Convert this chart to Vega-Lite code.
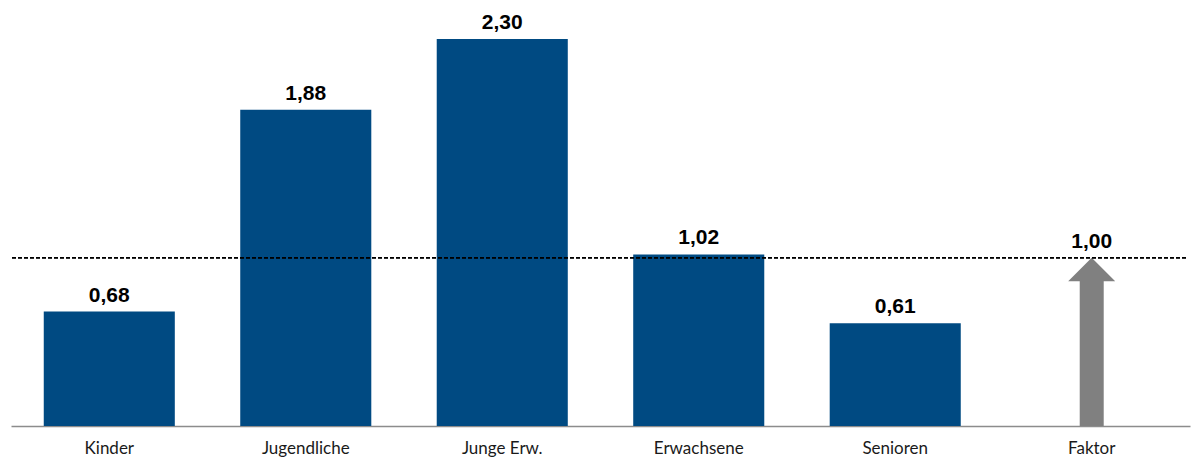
{
  "$schema": "https://vega.github.io/schema/vega-lite/v6.json",
  "width": 1179,
  "height": 426,
  "autosize": {"type": "none"},
  "padding": {"left": 11, "top": 0, "right": 10, "bottom": 36},
  "background": "white",
  "config": {
    "view": {"stroke": null},
    "locale": {
      "number": {"decimal": ",", "thousands": ".", "grouping": [3], "currency": ["", " €"]}
    }
  },
  "data": {
    "values": [
      {"Gruppe": "Kinder", "Wert": 0.68, "Art": "Balken"},
      {"Gruppe": "Jugendliche", "Wert": 1.88, "Art": "Balken"},
      {"Gruppe": "Junge Erw.", "Wert": 2.30, "Art": "Balken"},
      {"Gruppe": "Erwachsene", "Wert": 1.02, "Art": "Balken"},
      {"Gruppe": "Senioren", "Wert": 0.61, "Art": "Balken"},
      {"Gruppe": "Faktor", "Wert": 1.00, "Art": "Pfeil"}
    ]
  },
  "encoding": {
    "x": {
      "field": "Gruppe",
      "type": "nominal",
      "sort": null,
      "scale": {"paddingInner": 0.333, "paddingOuter": 0.1667},
      "axis": {
        "title": null,
        "ticks": false,
        "domainColor": "#8c8c8c",
        "domainWidth": 1.5,
        "labelAngle": 0,
        "labelFont": "Lato",
        "labelFontSize": 17,
        "labelColor": "#1a1a1a",
        "labelPadding": 14
      }
    },
    "y": {
      "field": "Wert",
      "type": "quantitative",
      "scale": {"domain": [0, 2.532], "nice": false},
      "axis": null
    }
  },
  "layer": [
    {
      "transform": [{"filter": "datum.Art === 'Balken'"}],
      "mark": {"type": "bar", "color": "#004a82"}
    },
    {
      "transform": [{"filter": "datum.Art === 'Pfeil'"}],
      "mark": {"type": "bar", "color": "#808080", "width": 24, "yOffset": 22},
      "encoding": {"y2": {"datum": 0}}
    },
    {
      "transform": [{"filter": "datum.Art === 'Pfeil'"}],
      "mark": {
        "type": "point",
        "shape": "M0,0L1,1L-1,1Z",
        "size": 2209,
        "filled": true,
        "opacity": 1,
        "strokeWidth": 0,
        "color": "#808080"
      }
    },
    {
      "mark": {"type": "rule", "color": "#000000", "strokeWidth": 1.2, "strokeDash": [4, 2], "xOffset": -4, "x2Offset": 10},
      "encoding": {
        "x": null,
        "y": {"datum": 1}
      }
    },
    {
      "mark": {
        "type": "text",
        "font": "Liberation Sans",
        "fontWeight": "bold",
        "fontSize": 21,
        "color": "#000000",
        "baseline": "alphabetic",
        "dy": -10
      },
      "encoding": {
        "text": {"field": "Wert", "type": "quantitative", "format": ".2f"}
      }
    }
  ]
}
